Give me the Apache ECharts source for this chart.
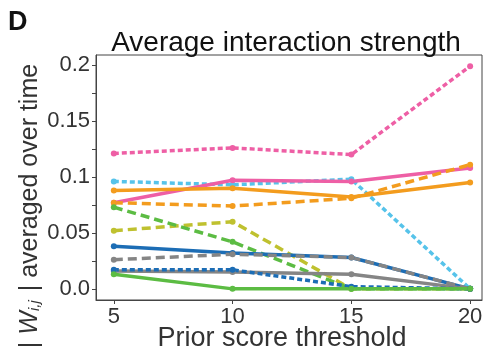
<!DOCTYPE html>
<html><head><meta charset="utf-8">
<script src="https://cdn.jsdelivr.net/npm/echarts@6/dist/echarts.min.js"></script>
<style>html,body{margin:0;padding:0;background:#fff}#c{width:489px;height:357px}</style>
</head><body><div id="c"></div>
<script>
const thresholds = [5, 10, 15, 20];
const xTicks = [5, 10, 15, 20];
const yTickLabels = [0, 0.05, 0.1, 0.15, 0.2];
const yMinorTicks = [0, 0.025, 0.05, 0.075, 0.1, 0.125, 0.15, 0.175, 0.2];

const cyanDotted   = [0.096, 0.093, 0.098, 0.000];
const pinkSolid    = [0.077, 0.097, 0.096, 0.108];
const pinkDotted   = [0.121, 0.126, 0.120, 0.199];
const orangeSolid  = [0.088, 0.090, 0.082, 0.095];
const orangeDashed = [0.077, 0.074, 0.081, 0.111];
const oliveDashed  = [0.052, 0.060, 0.000, 0.000];
const greenDashed  = [0.073, 0.042, 0.000, 0.000];
const blueSolid    = [0.038, 0.032, 0.028, 0.000];
const grayDashed   = [0.026, 0.031, 0.028, 0.000];
const graySolid    = [0.016, 0.015, 0.013, 0.000];
const blueDotted   = [0.017, 0.017, 0.002, 0.000];
const greenSolid   = [0.013, 0.000, 0.000, 0.000];

const FONT = '"Liberation Sans", Arial, sans-serif';

const defs = [
  [cyanDotted,   '#56C3EA', [5,3]],
  [pinkSolid,    '#EE5FA5', 'solid'],
  [pinkDotted,   '#EE5FA5', [5,3]],
  [orangeSolid,  '#F39C1E', 'solid'],
  [orangeDashed, '#F39C1E', [9,5]],
  [oliveDashed,  '#BFC12F', [9,5]],
  [greenDashed,  '#5CBC43', [9,5]],
  [blueSolid,    '#1C6DB5', 'solid'],
  [grayDashed,   '#858585', [9,5]],
  [graySolid,    '#858585', 'solid'],
  [blueDotted,   '#1C6DB5', [5,3]],
  [greenSolid,   '#5CBC43', 'solid']
];

const series = defs.map(([vals, color, type]) => ({
  type: 'line',
  data: thresholds.map((t, i) => [t, vals[i]]),
  symbol: 'circle', symbolSize: 6,
  itemStyle: {color: color},
  lineStyle: {color: color, width: 3.5, type: type},
  animation: false
}));

const chart = echarts.init(document.getElementById('c'), null, {renderer: 'canvas'});
chart.setOption({
  backgroundColor: '#fff',
  animation: false,
  graphic: [
    {
      type: 'text', left: 8, top: 9,
      style: {text: 'D', font: 'bold 27px ' + FONT, fill: '#111'}
    },
    {
      type: 'text', x: 30, y: 206, rotation: Math.PI / 2,
      style: {
        text: '{n|| }{w|W}{s|i,j}{n| | averaged over time}',
        align: 'center', verticalAlign: 'middle',
        rich: {
          n: {fontFamily: FONT, fontSize: 25, fill: '#333'},
          w: {fontFamily: FONT, fontSize: 25, fontStyle: 'italic', fill: '#333'},
          s: {fontFamily: FONT, fontSize: 15, fontStyle: 'italic', fill: '#333', padding: [10, 2, 0, 0]}
        }
      }
    }
  ],
  title: {
    text: 'Average interaction strength',
    left: 281, top: 24, textAlign: 'center',
    textStyle: {fontFamily: FONT, fontSize: 28, fontWeight: 'normal', color: '#111'}
  },
  grid: {left: 96, top: 55, right: 7, bottom: 57, show: true, borderColor: '#444', borderWidth: 1,
         containLabel: false, outerBoundsMode: 'none'},
  xAxis: {
    type: 'value', min: 4.25, max: 20.5,
    name: 'Prior score threshold', nameLocation: 'middle', nameGap: 25, nameMoveOverlap: false,
    nameTextStyle: {fontFamily: FONT, fontSize: 27, color: '#333', padding: [0, 14, 0, 0]},
    axisLine: {show: true, onZero: false, lineStyle: {color: '#444'}},
    axisTick: {show: true, length: 4, customValues: xTicks, lineStyle: {color: '#444'}},
    axisLabel: {customValues: xTicks, margin: 6, fontFamily: FONT, fontSize: 22, color: '#333'},
    splitLine: {show: false}
  },
  yAxis: {
    type: 'value', min: -0.00995, max: 0.209,
    axisLine: {show: true, onZero: false, lineStyle: {color: '#444'}},
    axisTick: {show: true, length: 4, customValues: yMinorTicks, lineStyle: {color: '#444'}},
    axisLabel: {
      customValues: yTickLabels, margin: 6,
      fontFamily: FONT, fontSize: 22, color: '#333',
      formatter: v => (Math.abs(v) < 1e-9 ? '0.0' : String(Math.round(v * 100) / 100))
    },
    splitLine: {show: false}
  },
  series: series
});
</script></body></html>
